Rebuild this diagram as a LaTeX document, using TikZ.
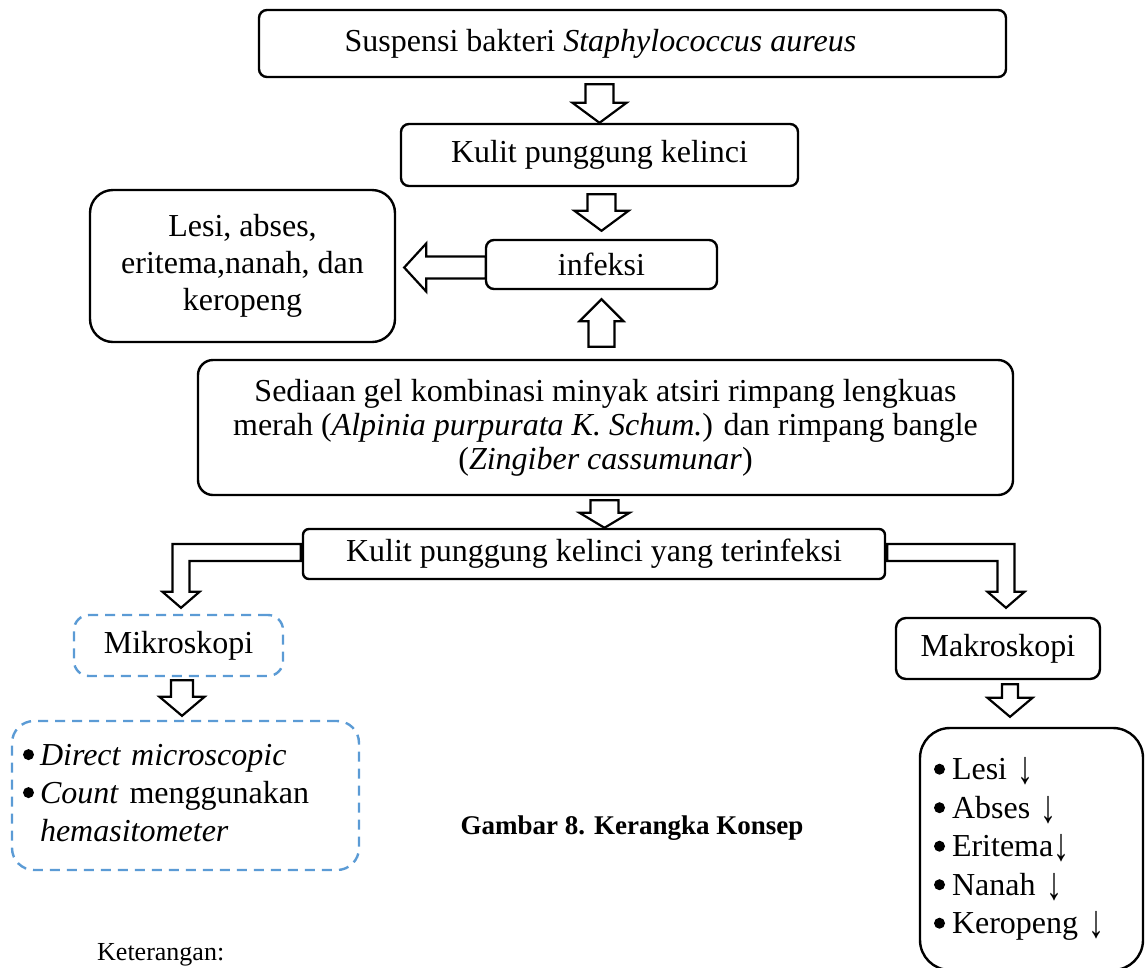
\documentclass[tikz,border=0pt]{standalone}
\usepackage{fontspec}
\setmainfont{Liberation Serif}
\usetikzlibrary{calc}
\definecolor{dashblue}{HTML}{5B9BD5}

\newcommand{\blockdown}[5]{%
  \draw[blockarrow] let \p1=(#1), \p2=(#2) in
    (\x2-#3pt,\y1) -- (\x2+#3pt,\y1) -- (\x2+#3pt,\y2+#5pt) -- (\x2+#4pt,\y2+#5pt)
    -- (\x2,\y2) -- (\x2-#4pt,\y2+#5pt) -- (\x2-#3pt,\y2+#5pt) -- cycle;}
\newcommand{\blockup}[5]{%
  \draw[blockarrow] let \p1=(#1), \p2=(#2) in
    (\x2-#3pt,\y1) -- (\x2+#3pt,\y1) -- (\x2+#3pt,\y2-#5pt) -- (\x2+#4pt,\y2-#5pt)
    -- (\x2,\y2) -- (\x2-#4pt,\y2-#5pt) -- (\x2-#3pt,\y2-#5pt) -- cycle;}
\newcommand{\blockleft}[5]{%
  \draw[blockarrow] let \p1=(#1), \p2=(#2) in
    (\x1,\y2+#3pt) -- (\x2+#5pt,\y2+#3pt) -- (\x2+#5pt,\y2+#4pt) -- (\x2,\y2)
    -- (\x2+#5pt,\y2-#4pt) -- (\x2+#5pt,\y2-#3pt) -- (\x1,\y2-#3pt) -- cycle;}
\newcommand{\bentleft}[2]{%
  \draw[blockarrow] let \p1=(#1), \p2=(#2) in
    (\x1,\y1+8.5pt) -- (\x2-8.5pt,\y1+8.5pt) -- (\x2-8.5pt,\y2+16pt) -- (\x2-18.5pt,\y2+16pt)
    -- (\x2,\y2) -- (\x2+18.5pt,\y2+16pt) -- (\x2+8.5pt,\y2+16pt) -- (\x2+8.5pt,\y1-8.5pt)
    -- (\x1,\y1-8.5pt) -- cycle;}
\newcommand{\bentright}[2]{%
  \draw[blockarrow] let \p1=(#1), \p2=(#2) in
    (\x1,\y1+8.5pt) -- (\x2+8.5pt,\y1+8.5pt) -- (\x2+8.5pt,\y2+16pt) -- (\x2+18.5pt,\y2+16pt)
    -- (\x2,\y2) -- (\x2-18.5pt,\y2+16pt) -- (\x2-8.5pt,\y2+16pt) -- (\x2-8.5pt,\y1-8.5pt)
    -- (\x1,\y1-8.5pt) -- cycle;}
\newcommand{\butir}{\tikz[baseline=0pt]{\path (0pt,0pt) rectangle (11pt,1pt);
  \fill (5.5pt,10.5pt) circle (5.5pt);}}
\newcommand{\turun}{\raisebox{-4pt}{\scalebox{1}[1.45]{↓}}}

\begin{document}
\begin{tikzpicture}[x=1pt,y=-1pt,
    box/.style={draw,line width=2.4pt,rounded corners=8pt,inner sep=0pt,align=center,
      font=\fontsize{32}{37}\selectfont},
    dashbox/.style={box,draw=dashblue,dash pattern=on 10pt off 7pt},
    blockarrow/.style={draw,line width=2.2pt,fill=white,line join=miter}]
  \useasboundingbox (0,0) rectangle (1145,967);
  \clip (0,0) rectangle (1145,967);
  \node[box,minimum width=747,minimum height=67] (bakteri) at (632.5,43.5)
    {Suspensi bakteri \textit{Staphylococcus aureus}\hspace*{64pt}};
  \node[box,minimum width=397,minimum height=62] (kulit) at (599.5,155) {Kulit punggung kelinci};
  \node[box,minimum width=231,minimum height=49] (infeksi) at (601.5,264.5) {infeksi};
  \node[box,rounded corners=23pt,minimum width=305,minimum height=152] (gejala) at (242.5,266)
    {\raisebox{-5pt}{\begin{tabular}{@{}c@{}}Lesi, abses,\\eritema,nanah, dan\\keropeng\end{tabular}}};
  \node[box,rounded corners=15pt,minimum width=815,minimum height=135,
    font=\fontsize{32}{34}\selectfont] (sediaan) at (605.5,427.5)
    {Sediaan gel kombinasi minyak atsiri rimpang lengkuas\\
     merah (\textit{Alpinia purpurata K. Schum.}) dan rimpang bangle\\
     (\textit{Zingiber cassumunar})};
  \node[box,rounded corners=6pt,minimum width=582,minimum height=50] (terinfeksi) at (594,554)
    {Kulit punggung kelinci yang terinfeksi};
  \node[dashbox,rounded corners=15pt,minimum width=209,minimum height=61] (mikro) at (178.5,645.5)
    {Mikroskopi};
  \node[dashbox,rounded corners=22pt,minimum width=347,minimum height=149,text width=325,
    align=left,font=\fontsize{32}{38}\selectfont] (hitung) at (185.5,795.5)
    {\raisebox{-6pt}{\begin{tabular}{@{}l@{\hspace{6pt}}l@{}}
      \butir & \textit{Direct microscopic}\\
      \butir & \textit{Count} menggunakan\\
             & \textit{hemasitometer}
    \end{tabular}}};
  \node[box,rounded corners=10pt,minimum width=204,minimum height=61] (makro) at (998,648.5)
    {Makroskopi};
  \node[box,rounded corners=30pt,minimum width=223,minimum height=242,text width=195,
    align=left,font=\fontsize{32}{38.5}\selectfont] (hasil) at (1031.5,849)
    {\raisebox{-5pt}{\begin{tabular}{@{}l@{\hspace{7pt}}l@{}}
      \butir & Lesi \turun\\
      \butir & Abses \turun\\
      \butir & Eritema\turun\\
      \butir & Nanah \turun\\
      \butir & Keropeng \turun
    \end{tabular}}};
  \node[font=\fontsize{27}{32}\selectfont\bfseries] (judul) at (632,828) {Gambar 8. Kerangka Konsep};
  \node[anchor=base west,inner sep=0pt,font=\fontsize{26}{30}\selectfont] (ket) at (97,960)
    {Keterangan:};

  \blockdown{$(kulit.north |- bakteri.south)+(0,6)$}{kulit.north}{14}{27}{20}
  \blockdown{$(infeksi.north |- kulit.south)+(0,7)$}{$(infeksi.north)+(0,-8)$}{14}{27}{20}
  \blockup{$(infeksi.south |- sediaan.north)+(0,-12)$}{$(infeksi.south)+(0,9)$}{13}{22}{22}
  \blockleft{$(infeksi.west)+(1,3)$}{$(gejala.east |- infeksi.west)+(8,3)$}{11}{24}{22}
  \blockdown{$(sediaan.south)+(-1,4)$}{$(sediaan.south |- terinfeksi.north)+(-1,0)$}{14}{25}{15}
  \bentleft{$(terinfeksi.west)+(-1,-1.5)$}{$(mikro.north)+(2.5,-6)$}
  \bentright{$(terinfeksi.east)+(1,-1.5)$}{$(makro.north)+(8,-9)$}
  \blockdown{$(mikro.south)+(3.5,3)$}{$(mikro.south |- hitung.north)+(3.5,-4)$}{11}{22.5}{19}
  \blockdown{$(makro.south)+(12,4)$}{$(makro.south |- hasil.north)+(12,-10)$}{8}{22.5}{19}
\end{tikzpicture}
\end{document}
